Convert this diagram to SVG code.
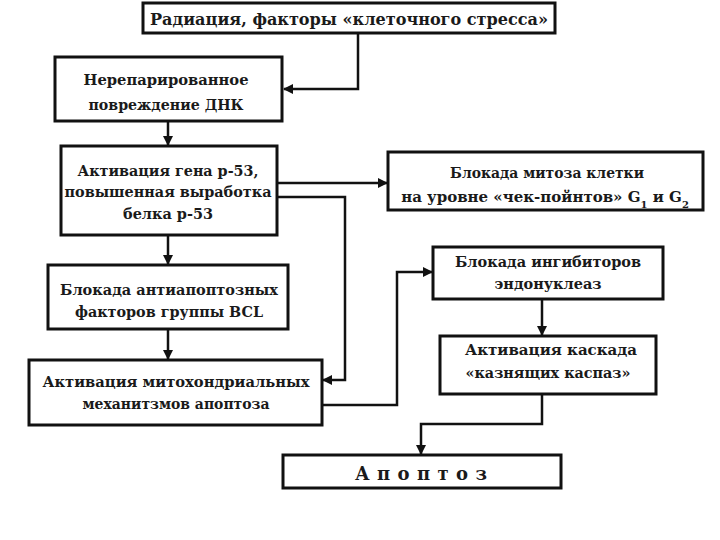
<svg xmlns="http://www.w3.org/2000/svg" width="720" height="540" viewBox="0 0 720 540">
<style>
.box{fill:#fff;stroke:#111;stroke-width:3}
.t{font-family:"DejaVu Serif","Liberation Serif",serif;font-weight:bold;font-size:15px;fill:#1a1a1a;text-anchor:middle}
.c{fill:none;stroke:#111;stroke-width:2.5}
.sub{font-size:10px}
</style>
<defs>
<marker id="a" viewBox="0 0 10 10" refX="9" refY="5" markerWidth="4" markerHeight="4" orient="auto" markerUnits="strokeWidth">
<path d="M0,0 L10,5 L0,10 z" fill="#111"/>
</marker>
</defs>
<rect width="720" height="540" fill="#fff"/>
<g id="connectors">
<path class="c" d="M358,33 V89 H284" marker-end="url(#a)"/>
<path class="c" d="M168,121 V145" marker-end="url(#a)"/>
<path class="c" d="M277,183 H387" marker-end="url(#a)"/>
<path class="c" d="M277,197 H345 V380 H323" marker-end="url(#a)"/>
<path class="c" d="M168,235 V264" marker-end="url(#a)"/>
<path class="c" d="M168,329 V359" marker-end="url(#a)"/>
<path class="c" d="M322,405 H397 V272 H432" marker-end="url(#a)"/>
<path class="c" d="M542,299 V335" marker-end="url(#a)"/>
<path class="c" d="M542,394 V424 H421 V454" marker-end="url(#a)"/>
</g>
<g id="n1"><rect class="box" x="143" y="3" width="412" height="30"/>
<text class="t" x="349" y="25" style="font-size:16px" textLength="398" lengthAdjust="spacingAndGlyphs">Радиация, факторы «клеточного стресса»</text></g>
<g id="n2"><rect class="box" x="55" y="57" width="227" height="64"/>
<text class="t" x="166" y="85" textLength="165" lengthAdjust="spacingAndGlyphs">Нерепарированное</text>
<text class="t" x="166" y="110" textLength="155" lengthAdjust="spacingAndGlyphs">повреждение ДНК</text></g>
<g id="n3"><rect class="box" x="61" y="146" width="216" height="89"/>
<text class="t" x="168" y="176" textLength="181" lengthAdjust="spacingAndGlyphs">Активация гена p-53,</text>
<text class="t" x="168" y="197" textLength="207" lengthAdjust="spacingAndGlyphs">повышенная выработка</text>
<text class="t" x="168" y="219" textLength="90" lengthAdjust="spacingAndGlyphs">белка p-53</text></g>
<g id="n4"><rect class="box" x="388" y="152" width="315" height="58"/>
<text class="t" x="547" y="178" textLength="194" lengthAdjust="spacingAndGlyphs">Блокада митоза клетки</text>
<text class="t" x="545" y="202">на уровне «чек-пойнтов» G<tspan class="sub" baseline-shift="sub">1</tspan> и G<tspan class="sub" baseline-shift="sub">2</tspan></text></g>
<g id="n5"><rect class="box" x="48" y="265" width="240" height="64"/>
<text class="t" x="169" y="295" textLength="218" lengthAdjust="spacingAndGlyphs">Блокада антиапоптозных</text>
<text class="t" x="169" y="317" textLength="188" lengthAdjust="spacingAndGlyphs">факторов группы BCL</text></g>
<g id="n6"><rect class="box" x="29" y="360" width="293" height="65"/>
<text class="t" x="176" y="387" textLength="267" lengthAdjust="spacingAndGlyphs">Активация митохондриальных</text>
<text class="t" x="176" y="409" textLength="187" lengthAdjust="spacingAndGlyphs">механитзмов апоптоза</text></g>
<g id="n7"><rect class="box" x="433" y="247" width="230" height="52"/>
<text class="t" x="548" y="267" textLength="186" lengthAdjust="spacingAndGlyphs">Блокада ингибиторов</text>
<text class="t" x="548" y="289" textLength="107" lengthAdjust="spacingAndGlyphs">эндонуклеаз</text></g>
<g id="n8"><rect class="box" x="440" y="336" width="216" height="58"/>
<text class="t" x="551" y="355" textLength="172" lengthAdjust="spacingAndGlyphs">Активация каскада</text>
<text class="t" x="548" y="378" textLength="165" lengthAdjust="spacingAndGlyphs">«казнящих каспаз»</text></g>
<g id="n9"><rect class="box" x="283" y="455" width="278" height="33"/>
<text class="t" x="421" y="480" style="font-size:18px" textLength="132" lengthAdjust="spacing">Апоптоз</text></g>
</svg>
